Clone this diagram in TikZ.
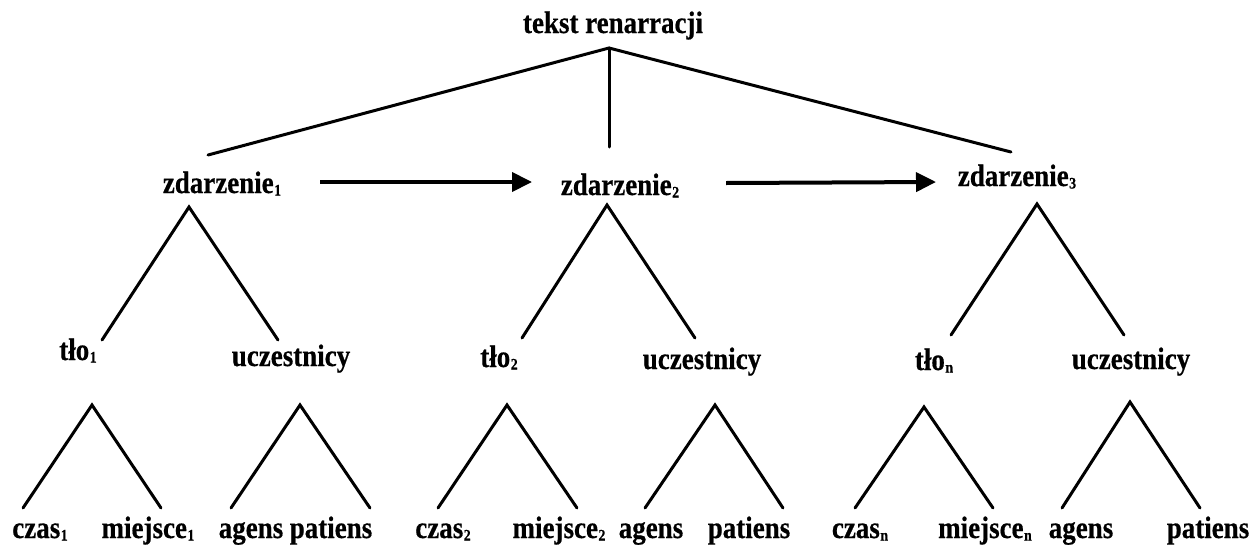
\documentclass[tikz,border=0pt]{standalone}
\usepackage{fontspec}
\setmainfont{Liberation Serif}[FakeStretch=0.87,BoldFeatures={FakeBold=0.5}]
\usetikzlibrary{arrows.meta}
\newcommand{\sbs}[1]{\kern0.5pt\raisebox{-2.5pt}{\fontsize{16}{16}\selectfont #1}}
\begin{document}
\begin{tikzpicture}[x=1pt,y=-1pt,
  lbl/.style={font=\fontsize{31}{33}\selectfont\bfseries, anchor=base, inner sep=0pt},
  edge/.style={line width=3pt, line cap=round, line join=miter},
  seq/.style={line width=4pt, -{Triangle[length=20pt,width=19pt]}}]
\useasboundingbox (0,0) rectangle (1252,544);
% level 0
\node[lbl] (root) at (613,33) {tekst renarracji};
% level 1
\node[lbl] (z1) at (222,193) {zdarzenie\sbs{1}};
\node[lbl] (z2) at (620,195) {zdarzenie\sbs{2}};
\node[lbl] (z3) at (1017,186) {zdarzenie\sbs{3}};
% level 2
\node[lbl] (t1) at (78,360) {tło\sbs{1}};
\node[lbl] (u1) at (291,366) {uczestnicy};
\node[lbl] (t2) at (499,367) {tło\sbs{2}};
\node[lbl] (u2) at (702,369) {uczestnicy};
\node[lbl] (t3) at (934,370) {tło\sbs{n}};
\node[lbl] (u3) at (1131,369) {uczestnicy};
% level 3
\node[lbl] (c1) at (40,538) {czas\sbs{1}};
\node[lbl] (m1) at (148,538) {miejsce\sbs{1}};
\node[lbl] (a1) at (251,538) {agens};
\node[lbl] (p1) at (331,538) {patiens};
\node[lbl] (c2) at (443,538) {czas\sbs{2}};
\node[lbl] (m2) at (559,538) {miejsce\sbs{2}};
\node[lbl] (a2) at (651,538) {agens};
\node[lbl] (p2) at (749,538) {patiens};
\node[lbl] (c3) at (860,538) {czas\sbs{n}};
\node[lbl] (m3) at (985,538) {miejsce\sbs{n}};
\node[lbl] (a3) at (1081,538) {agens};
\node[lbl] (p3) at (1208,538) {patiens};
% connector points
\coordinate (r0) at (609,48);
\coordinate (rz1) at (208,155);
\coordinate (rz2) at (609,147);
\coordinate (rz3) at (1011,152);
\coordinate (z1a) at (189,207);
\coordinate (z1l) at (102,340);
\coordinate (z1r) at (278,340);
\coordinate (z2a) at (607,205);
\coordinate (z2l) at (522,338);
\coordinate (z2r) at (695,338);
\coordinate (z3a) at (1037,204);
\coordinate (z3l) at (951,335);
\coordinate (z3r) at (1124,335);
\coordinate (t1a) at (92,405);
\coordinate (t1l) at (23,508);
\coordinate (t1r) at (161,508);
\coordinate (u1a) at (300,405);
\coordinate (u1l) at (231,508);
\coordinate (u1r) at (370,508);
\coordinate (t2a) at (507,405);
\coordinate (t2l) at (438,508);
\coordinate (t2r) at (577,508);
\coordinate (u2a) at (715,405);
\coordinate (u2l) at (645,508);
\coordinate (u2r) at (783,508);
\coordinate (t3a) at (924,407);
\coordinate (t3l) at (855,508);
\coordinate (t3r) at (993,508);
\coordinate (u3a) at (1130,402);
\coordinate (u3l) at (1062,508);
\coordinate (u3r) at (1200,508);
\coordinate (s1a) at (320,182);
\coordinate (s1b) at (532,182);
\coordinate (s2a) at (726,183);
\coordinate (s2b) at (936,182);
% connectors
\draw[edge] (rz1) -- (r0) -- (rz3);
\draw[edge] (r0) -- (rz2);
\foreach \p in {z1,z2,z3,t1,u1,t2,u2,t3,u3}
  \draw[edge] (\p l) -- (\p a) -- (\p r);
\draw[seq] (s1a) -- (s1b);
\draw[seq] (s2a) -- (s2b);
\end{tikzpicture}
\end{document}
